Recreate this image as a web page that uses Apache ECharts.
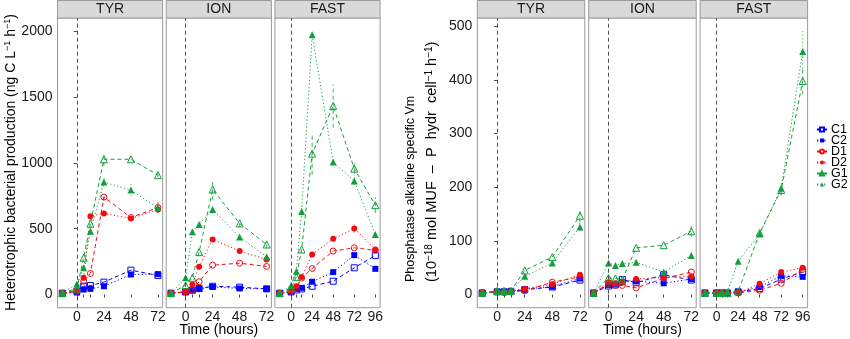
<!DOCTYPE html>
<html><head><meta charset="utf-8">
<script src="https://cdn.jsdelivr.net/npm/echarts@6/dist/echarts.min.js"></script>
<style>html,body{margin:0;padding:0;background:#fff}#c{width:850px;height:339px}</style>
</head><body><div id="c"></div>
<script>
// ---------- DATA ----------
const groups = ['C1', 'C2', 'D1', 'D2', 'G1', 'G2'];
const facets = ['TYR', 'ION', 'FAST'];
const timesShort = [-13, 0, 6, 12, 24, 48, 72];
const timesLong = [-13, 0, 6, 12, 24, 48, 72, 96];
const xTicksShort = [0, 6, 12, 24, 48, 72];
const xLabelsShort = [0, 24, 48, 72];
const xTicksLong = [0, 6, 12, 24, 48, 72, 96];
const xLabelsLong = [0, 24, 48, 72, 96];
const bpTicks = [0, 500, 1000, 1500, 2000];
const paTicks = [0, 100, 200, 300, 400, 500];

// Heterotrophic bacterial production (left)
const bpTYR = {
  C1: [10, 25, 63, 68, 94, 185, 145],
  C2: [10, 15, 38, 43, 63, 152, 155],
  D1: [10, 25, 101, 160, 740, 585, 660],
  D2: [10, 30, 127, 595, 616, 578, 645],
  G1: [10, 45, 279, 538, 1027, 1027, 907],
  G2: [10, 80, 203, 481, 854, 793, 659]
};
const bpION = {
  C1: [10, 20, 33, 45, 63, 56, 43],
  C2: [10, 18, 33, 43, 58, 46, 43],
  D1: [10, 20, 35, 97, 223, 238, 213],
  D2: [10, 25, 76, 211, 418, 330, 266],
  G1: [10, 70, 127, 322, 798, 540, 380],
  G2: [10, 127, 477, 532, 646, 436, 287]
};
const bpFAST = {
  C1: [10, 20, 35, 43, 63, 101, 203, 296],
  C2: [10, 20, 43, 51, 97, 170, 299, 195],
  D1: [10, 25, 50, 125, 198, 330, 355, 335],
  D2: [10, 30, 63, 134, 304, 423, 502, 342],
  G1: [10, 50, 134, 342, 1070, 1432, 956, 679],
  G2: [10, 68, 177, 631, 1972, 1006, 862, 456]
};
// Phosphatase alkaline specific Vm (right)
const paTYR = {
  C1: [3, 5, 5, 6, 9, 14, 27],
  C2: [3, 5, 5, 6, 10, 15, 30],
  D1: [3, 5, 4, 5, 7, 23, 33],
  D2: [3, 5, 5, 6, 11, 19, 37],
  G1: [3, 7, 7, 7, 45, 70, 147],
  G2: [3, 6, 6, 6, 34, 59, 126]
};
const paION = {
  C1: [3, 16, 18, 28, 22, 37, 27],
  C2: [3, 18, 20, 23, 25, 21, 29],
  D1: [3, 20, 17, 17, 12.5, 30, 42],
  D2: [3, 23, 21, 23, 29, 32, 34],
  G1: [3, 31, 30, 28, 87, 92, 118],
  G2: [3, 59, 54, 58, 60, 42, 73]
};
const paFAST = {
  C1: [3, 3, 3, 3, 5, 11, 29, 42],
  C2: [3, 3, 3, 3, 5, 14, 35, 33],
  D1: [3, 3, 3, 3, 3, 8, 21, 47],
  D2: [3, 3, 3, 3, 3, 20, 42, 50],
  G1: [3, 3, 3, 3, 6, 115, 195, 398],
  G2: [3, 3, 3, 5, 62, 113, 198, 453]
};
// error bars: [facet, group, time, sd]
const bpErr = [
  ['TYR', 'G1', 24, 50], ['TYR', 'G2', 24, 35], ['TYR', 'G2', 48, 45], ['TYR', 'D1', 24, 25],
  ['TYR', 'D1', 72, 40], ['TYR', 'G1', 72, 15], ['TYR', 'D2', 12, 25],
  ['ION', 'G1', 24, 80], ['ION', 'G2', 24, 30], ['ION', 'G1', 48, 30], ['ION', 'G1', 72, 30],
  ['FAST', 'G2', 24, 25], ['FAST', 'G1', 24, 160], ['FAST', 'G1', 48, 165], ['FAST', 'G1', 72, 40],
  ['FAST', 'G1', 96, 60], ['FAST', 'G2', 12, 40], ['FAST', 'D2', 72, 30], ['FAST', 'G2', 72, 30]
];
const paErr = [
  ['TYR', 'G1', 72, 12], ['TYR', 'G2', 72, 8], ['ION', 'G1', 72, 10],
  ['FAST', 'G1', 96, 25], ['FAST', 'G2', 96, 38], ['FAST', 'G1', 72, 10], ['FAST', 'G2', 72, 12]
];

// ---------- STYLE ----------
const FONT = '"Liberation Sans", Arial, Helvetica, sans-serif';
const BLUE = '#0000ff', RED = '#f20d12', GREEN = '#12a03e';
const gStyle = {
  C1: {color: BLUE, symbol: 'rect', open: true, dash: [4, 3], size: 6},
  C2: {color: BLUE, symbol: 'rect', open: false, dash: [1.2, 2.4], size: 6},
  D1: {color: RED, symbol: 'circle', open: true, dash: [4, 3], size: 6},
  D2: {color: RED, symbol: 'circle', open: false, dash: [1.2, 2.4], size: 6},
  G1: {color: GREEN, symbol: 'triangle', open: true, dash: [4, 3], size: 7},
  G2: {color: GREEN, symbol: 'triangle', open: false, dash: [1.2, 2.4], size: 7}
};
const panels = [
  {data: {TYR: bpTYR, ION: bpION, FAST: bpFAST}, err: bpErr, ymin: -100, ymax: 2100, yTicks: bpTicks,
   lefts: [57.5, 166.2, 274.9], width: 105.2},
  {data: {TYR: paTYR, ION: paION, FAST: paFAST}, err: paErr, ymin: -24.5, ymax: 515.5, yTicks: paTicks,
   lefts: [477.3, 588.7, 700.1], width: 107.5}
];
const TOP = 18, BOTTOM = 307.7;

const grids = [], xAxes = [], yAxes = [], series = [], graphics = [];
let gi = 0;
panels.forEach((p, pi) => {
  facets.forEach((f, fi) => {
    const isLong = f === 'FAST';
    const times = isLong ? timesLong : timesShort;
    const span = times[times.length - 1] - times[0];
    grids.push({left: p.lefts[fi], top: TOP, width: p.width, height: BOTTOM - TOP,
      show: true, borderColor: '#9a9a9a', borderWidth: 1, backgroundColor: '#fff', containLabel: false});
    xAxes.push({type: 'value', gridIndex: gi,
      min: times[0] - 0.05 * span, max: times[times.length - 1] + 0.05 * span,
      axisLine: {show: false}, splitLine: {show: false},
      axisTick: {show: true, length: 3, lineStyle: {color: '#444'}, customValues: isLong ? xTicksLong : xTicksShort},
      axisLabel: {show: true, customValues: isLong ? xLabelsLong : xLabelsShort, margin: 2,
        formatter: v => String(v), fontSize: 14, color: '#1a1a1a', fontFamily: FONT}
    });
    yAxes.push({type: 'value', gridIndex: gi, min: p.ymin, max: p.ymax,
      axisLine: {show: false}, splitLine: {show: false},
      axisTick: {show: fi === 0, length: 3, lineStyle: {color: '#444'}, customValues: p.yTicks},
      axisLabel: {show: fi === 0, customValues: p.yTicks, margin: 5, formatter: v => String(v),
        fontSize: 14, color: '#1a1a1a', fontFamily: FONT}
    });
    const d = p.data[f];
    groups.forEach((g, k) => {
      const s = gStyle[g];
      const ser = {
        type: 'line', name: g, xAxisIndex: gi, yAxisIndex: gi,
        data: times.map((t, i) => [t, d[g][i]]),
        symbol: s.symbol, symbolSize: s.size, showSymbol: true,
        itemStyle: s.open ? {color: 'rgba(255,255,255,0)', borderColor: s.color, borderWidth: 1}
                          : {color: s.color, borderWidth: 0},
        lineStyle: {color: s.color, width: 1, type: s.dash},
        emphasis: {disabled: true}, animation: false, z: 3 + k * 0.01
      };
      if (k === 0) {
        ser.markLine = {silent: true, symbol: ['none', 'none'], label: {show: false}, animation: false,
          lineStyle: {color: '#505050', width: 1, type: [4, 3]}, emphasis: {disabled: true},
          data: [{xAxis: 0}]};
      }
      series.push(ser);
    });
    // error bars
    groups.forEach(g => {
      const items = p.err.filter(e => e[0] === f && e[1] === g).map(e => {
        const v = d[g][times.indexOf(e[2])];
        return [e[2], v - e[3], v + e[3]];
      });
      if (!items.length) return;
      const s = gStyle[g];
      series.push({type: 'custom', xAxisIndex: gi, yAxisIndex: gi, data: items, animation: false, z: 2,
        silent: true,
        renderItem: (params, api) => {
          const a = api.coord([api.value(0), api.value(1)]);
          const b = api.coord([api.value(0), api.value(2)]);
          return {type: 'line', shape: {x1: a[0], y1: a[1], x2: b[0], y2: b[1]},
            style: {stroke: s.color, lineWidth: 1, lineDash: s.dash, opacity: 0.8}};
        }});
    });
    // strip
    graphics.push({type: 'rect', shape: {x: p.lefts[fi], y: 0.5, width: p.width, height: TOP - 0.5},
      style: {fill: '#d9d9d9', stroke: '#9a9a9a', lineWidth: 1}, z: 10});
    graphics.push({type: 'text', x: p.lefts[fi] + p.width / 2, y: 9.5, z: 11,
      style: {text: f, fontSize: 14, fontFamily: FONT, fill: '#1a1a1a', align: 'center', verticalAlign: 'middle'}});
    gi++;
  });
  const mid = (p.lefts[0] + p.lefts[2] + p.width) / 2;
  graphics.push({type: 'text', x: mid, y: 330.5, z: 11,
    style: {text: 'Time (hours)', fontSize: 14, fontFamily: FONT, fill: '#000', align: 'center', verticalAlign: 'middle'}});
});

const supRich = {sup: {fontSize: 9, verticalAlign: 'top', fontFamily: FONT, fill: '#000', padding: [0, 0, 6, 0]}};
graphics.push({type: 'text', x: 11, y: 162.5, rotation: Math.PI / 2, z: 11,
  style: {text: 'Heterotrophic bacterial production (ng C L{sup|−1} h{sup|−1})', fontSize: 14, fontFamily: FONT,
    fill: '#000', align: 'center', verticalAlign: 'middle', rich: supRich}});
graphics.push({type: 'text', x: 411, y: 282, rotation: Math.PI / 2, z: 11,
  style: {text: 'Phosphatase alkaline specific Vm', fontSize: 12.5, fontFamily: FONT,
    fill: '#000', align: 'left', verticalAlign: 'middle'}});
graphics.push({type: 'text', x: 432, y: 282, rotation: Math.PI / 2, z: 11,
  style: {text: '(10{sup|−18} mol MUF  –  P  hydr  cell{sup|−1} h{sup|−1})', fontSize: 14.5, fontFamily: FONT,
    fill: '#000', align: 'left', verticalAlign: 'middle',
    rich: {sup: {fontSize: 10, verticalAlign: 'top', fontFamily: FONT, fill: '#000', padding: [0, 0, 6, 0]}}}});

const chart = echarts.init(document.getElementById('c'), null, {renderer: 'canvas'});
chart.setOption({
  animation: false,
  backgroundColor: '#fff',
  textStyle: {fontFamily: FONT},
  grid: grids, xAxis: xAxes, yAxis: yAxes, series: series, graphic: graphics,
  legend: {data: groups, orient: 'vertical', left: 816, top: 123, padding: 0, itemWidth: 10, itemHeight: 5, itemGap: -2,
    textStyle: {fontSize: 12.5, lineHeight: 10, color: '#000', fontFamily: FONT, padding: [0, 0, 0, -1]}, selectedMode: false}
});
</script></body></html>
